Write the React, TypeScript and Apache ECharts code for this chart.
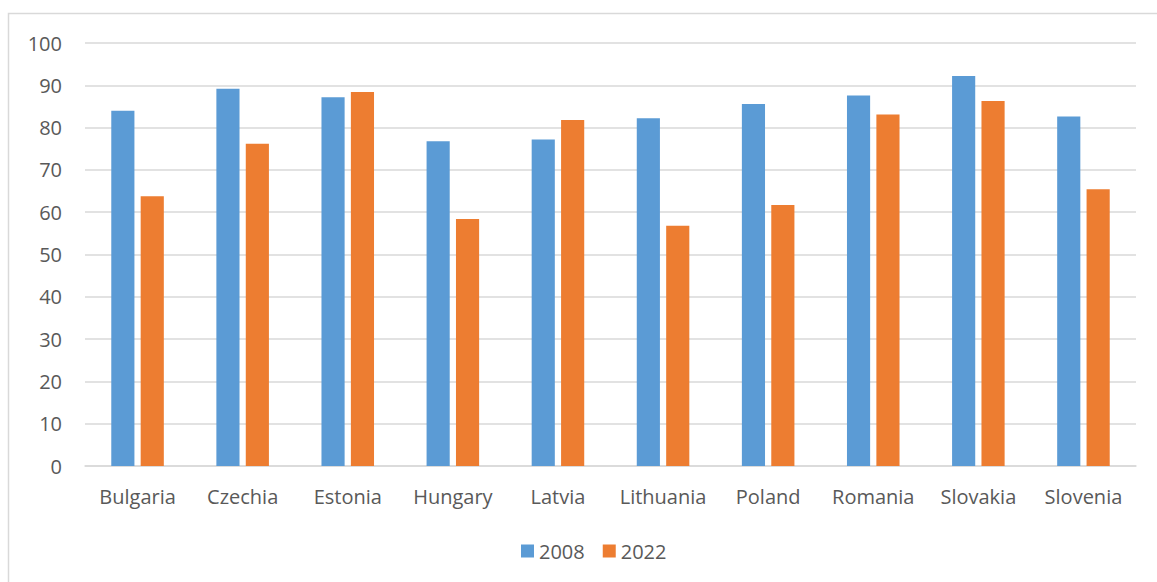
import React, { useEffect, useRef } from "react";
import * as echarts from "echarts";

const countries = [
  "Bulgaria", "Czechia", "Estonia", "Hungary", "Latvia",
  "Lithuania", "Poland", "Romania", "Slovakia", "Slovenia",
];
const values2008 = [84.0, 89.2, 87.2, 76.8, 77.2, 82.2, 85.6, 87.6, 92.2, 82.6];
const values2022 = [63.8, 76.2, 88.4, 58.4, 81.8, 56.8, 61.7, 83.1, 86.3, 65.4];
const seriesNames = ["2008", "2022"];

const FONT = "'Open Sans', Lato, sans-serif";
const TEXT = "#595959";
const GRID = "#D9D9D9";

export default function App() {
  const ref = useRef<HTMLDivElement>(null);

  useEffect(() => {
    if (!ref.current) return;
    const chart = echarts.init(ref.current, undefined, { renderer: "svg" });
    chart.setOption({
      animation: false,
      backgroundColor: "#ffffff",
      textStyle: { fontFamily: FONT },
      graphic: [
        {
          type: "rect",
          shape: { x: 8.5, y: 13.5, width: 1200, height: 620 },
          style: { fill: "none", stroke: GRID, lineWidth: 1.5 },
          silent: true,
        },
      ],
      grid: { left: 85, right: 21, top: 43, bottom: 116, containLabel: false },
      legend: {
        data: seriesNames,
        left: 516,
        top: 536,
        itemWidth: 13,
        itemHeight: 13,
        itemGap: 18,
        icon: "rect",
        textStyle: { color: TEXT, fontSize: 20, fontFamily: FONT },
      },
      xAxis: {
        type: "category",
        data: countries,
        axisTick: { show: false },
        axisLine: { lineStyle: { color: GRID, width: 1.5 } },
        axisLabel: {
          color: TEXT,
          fontSize: 20,
          margin: 20,
          interval: 0,
          hideOverlap: false,
          fontFamily: FONT,
        },
      },
      yAxis: {
        type: "value",
        min: 0,
        max: 100,
        interval: 10,
        axisLine: { show: false },
        axisTick: { show: false },
        splitLine: { lineStyle: { color: GRID, width: 1.5 } },
        axisLabel: { color: TEXT, fontSize: 20, margin: 23, fontFamily: FONT },
      },
      series: [
        {
          name: seriesNames[0],
          type: "bar",
          data: values2008,
          itemStyle: { color: "#5B9BD5" },
          barGap: "27%",
          barCategoryGap: "50%",
        },
        {
          name: seriesNames[1],
          type: "bar",
          data: values2022,
          itemStyle: { color: "#ED7D31" },
          barGap: "27%",
          barCategoryGap: "50%",
        },
      ],
    });
    return () => chart.dispose();
  }, []);

  return (
    <div
      ref={ref}
      style={{ position: "fixed", left: 0, top: 0, width: 1157, height: 582 }}
    />
  );
}
